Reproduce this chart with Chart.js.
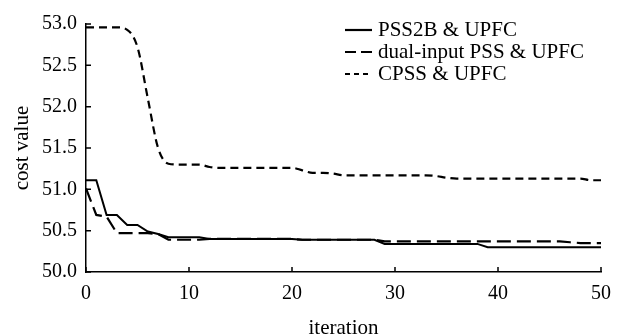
<!DOCTYPE html>
<html>
<head>
<meta charset="utf-8">
<script src="https://cdn.jsdelivr.net/npm/chart.js@4.4.1/dist/chart.umd.min.js"></script>
<style>
  html, body { margin: 0; padding: 0; background: #fff; }
  #wrap { width: 617px; height: 336px; }
</style>
</head>
<body>
<div id="wrap"><canvas id="myChart"></canvas></div>
<script>
let iterations = [0,1,2,3,4,5,6,7,8,9,10,11,12,13,14,15,16,17,18,19,20,
  21,22,23,24,25,26,27,28,29,30,31,32,33,34,35,36,37,38,39,40,
  41,42,43,44,45,46,47,48,49,50];

let pss2b = [51.11,51.11,50.69,50.69,50.57,50.57,50.49,50.46,50.42,50.42,50.42,
  50.42,50.40,50.40,50.40,50.40,50.40,50.40,50.40,50.40,50.40,
  50.39,50.39,50.39,50.39,50.39,50.39,50.39,50.39,50.34,50.34,
  50.34,50.34,50.34,50.34,50.34,50.34,50.34,50.34,50.30,50.30,
  50.30,50.30,50.30,50.30,50.30,50.30,50.30,50.30,50.30,50.30];

let dualInput = [51.01,50.69,50.67,50.47,50.47,50.47,50.47,50.46,50.39,50.39,50.39,
  50.39,50.40,50.40,50.40,50.40,50.40,50.40,50.40,50.40,50.40,
  50.39,50.39,50.39,50.39,50.39,50.39,50.39,50.39,50.37,50.37,
  50.37,50.37,50.37,50.37,50.37,50.37,50.37,50.37,50.37,50.37,
  50.37,50.37,50.37,50.37,50.37,50.37,50.36,50.35,50.35,50.35];

let cpss = [52.96,52.96,52.96,52.96,52.93,52.72,52.10,51.50,51.31,51.30,51.30,
  51.30,51.27,51.26,51.26,51.26,51.26,51.26,51.26,51.26,51.26,
  51.23,51.20,51.20,51.19,51.17,51.17,51.17,51.17,51.17,51.17,
  51.17,51.17,51.17,51.16,51.14,51.13,51.13,51.13,51.13,51.13,
  51.13,51.13,51.13,51.13,51.13,51.13,51.13,51.13,51.11,51.11];

let seriesNames = ['PSS2B & UPFC', 'dual-input PSS & UPFC', 'CPSS & UPFC'];

const FONT = 'Liberation Serif, Times New Roman, serif';

// inward tick marks + legend drawn on top
const extras = {
  id: 'extras',
  afterDraw(chart) {
    const c = chart.ctx;
    const xs = chart.scales.x, ys = chart.scales.y;
    const area = chart.chartArea;
    c.save();
    c.strokeStyle = '#000';
    c.lineWidth = 1.5;
    c.setLineDash([]);
    c.beginPath();
    xs.ticks.forEach((t, i) => {
      const px = xs.getPixelForTick(i);
      c.moveTo(px, area.bottom);
      c.lineTo(px, area.bottom - 5);
    });
    ys.ticks.forEach((t, i) => {
      const py = ys.getPixelForTick(i);
      c.moveTo(area.left, py);
      c.lineTo(area.left + 5, py);
    });
    c.stroke();

    // legend
    const rows = [30, 52, 74];
    const dashes = [[], [11, 5], [5, 4]];
    c.font = '21px ' + FONT;
    c.textBaseline = 'middle';
    c.fillStyle = '#000';
    chart.data.datasets.forEach((ds, i) => {
      c.lineWidth = 2.2;
      c.setLineDash(dashes[i]);
      c.beginPath();
      c.moveTo(345, rows[i]);
      c.lineTo(372, rows[i]);
      c.stroke();
      c.fillText(ds.label, 378, rows[i]);
    });
    c.restore();
  }
};

let ctx = document.getElementById('myChart').getContext('2d');

let myChart = new Chart(ctx, {
  type: 'line',
  data: {
    labels: iterations,
    datasets: [
      {
        label: seriesNames[0],
        data: pss2b,
        borderColor: '#000',
        borderWidth: 2,
        pointRadius: 0,
        tension: 0
      },
      {
        label: seriesNames[1],
        data: dualInput,
        borderColor: '#000',
        borderWidth: 2.2,
        borderDash: [14, 6],
        pointRadius: 0,
        tension: 0
      },
      {
        label: seriesNames[2],
        data: cpss,
        borderColor: '#000',
        borderWidth: 2.2,
        borderDash: [8, 5],
        pointRadius: 0,
        cubicInterpolationMode: 'monotone'
      }
    ]
  },
  options: {
    responsive: true,
    maintainAspectRatio: false,
    animation: false,
    layout: { padding: { top: 24, right: 16, left: 0, bottom: 0 } },
    plugins: {
      legend: { display: false },
      tooltip: { enabled: false }
    },
    scales: {
      x: {
        type: 'linear',
        min: 0,
        max: 50,
        afterFit(scale) {
          scale.height = 64;
          scale.paddingLeft = 0;
          scale.paddingRight = 0;
        },
        ticks: {
          stepSize: 10,
          padding: 10,
          color: '#000',
          maxRotation: 0,
          font: { family: FONT, size: 20 }
        },
        grid: { display: true, drawOnChartArea: false, drawTicks: false },
        border: { display: true, color: '#000', width: 1.5 },
        title: {
          display: true,
          text: 'iteration',
          color: '#000',
          font: { family: FONT, size: 21, lineHeight: 1 },
          padding: { top: 0, bottom: -3 }
        }
      },
      y: {
        min: 50,
        max: 53,
        afterFit(scale) { scale.width = 86; },
        ticks: {
          stepSize: 0.5,
          padding: 9,
          color: '#000',
          font: { family: FONT, size: 20 },
          callback: v => v.toFixed(1)
        },
        grid: { display: true, drawOnChartArea: false, drawTicks: false },
        border: { display: true, color: '#000', width: 1.5 },
        title: {
          display: true,
          text: 'cost value',
          color: '#000',
          font: { family: FONT, size: 21, lineHeight: 1 },
          padding: { top: 12, bottom: 0 }
        }
      }
    }
  },
  plugins: [extras]
});
</script>
</body>
</html>
